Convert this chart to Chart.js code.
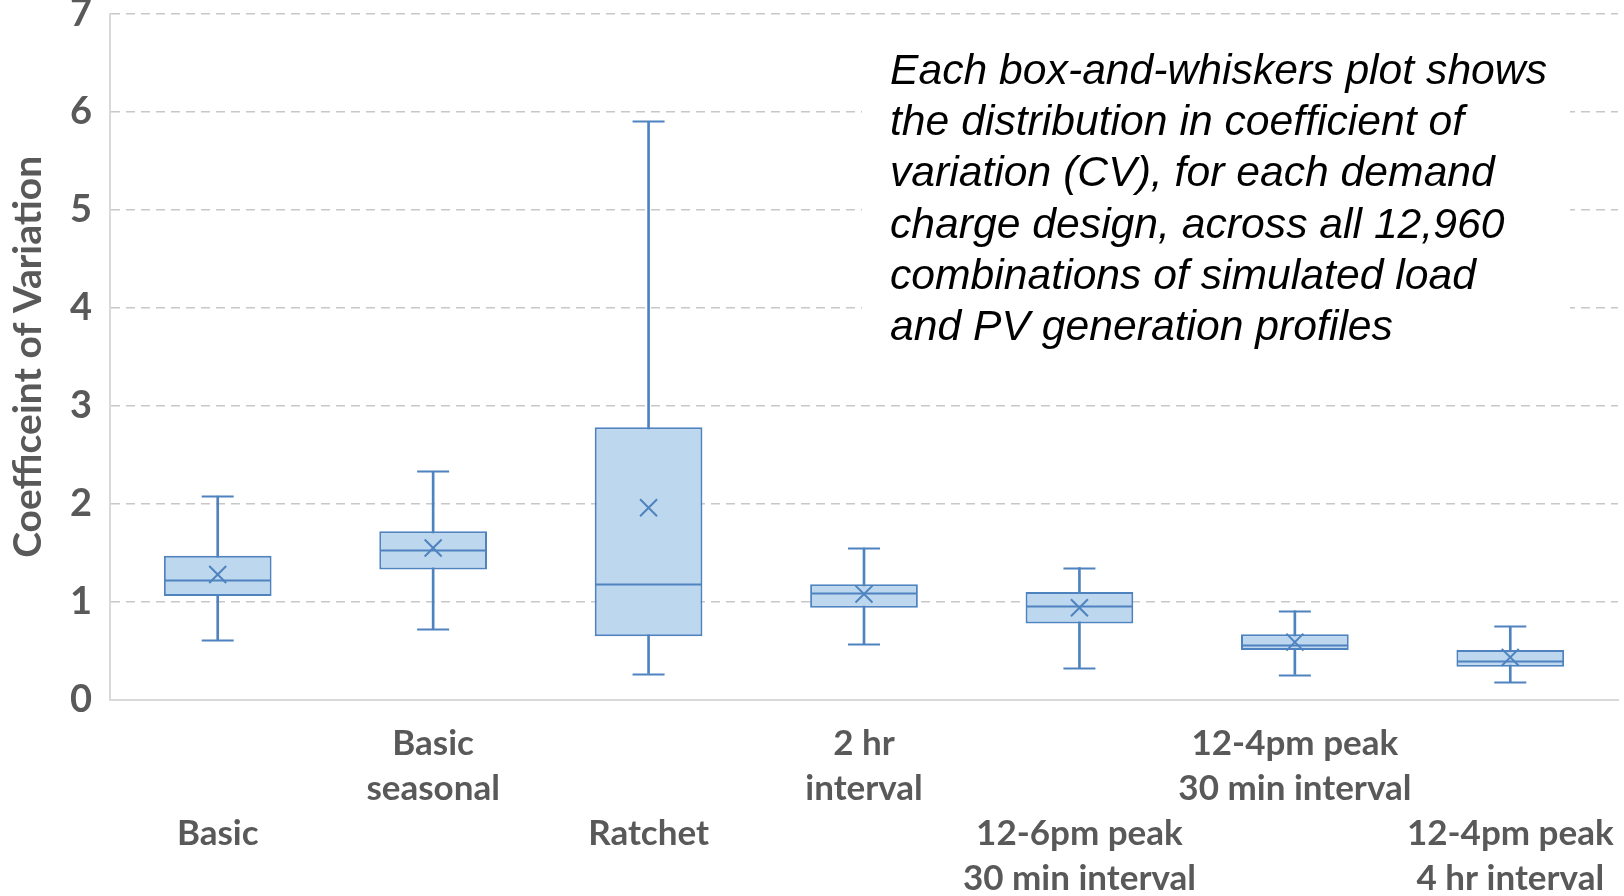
<!DOCTYPE html>
<html>
<head>
<meta charset="utf-8">
<script src="https://cdn.jsdelivr.net/npm/chart.js@4.4.1/dist/chart.umd.min.js"></script>
<style>
html,body{margin:0;padding:0;background:#ffffff;overflow:hidden}
canvas{display:block}
</style>
</head>
<body>
<canvas id="c" width="1624" height="896"></canvas>
<script>
// ---- data ----
const categories = [
  ['Basic'],
  ['Basic', 'seasonal'],
  ['Ratchet'],
  ['2 hr', 'interval'],
  ['12-6pm peak', '30 min interval'],
  ['12-4pm peak', '30 min interval'],
  ['12-4pm peak', '4 hr interval']
];
const whiskerMin = [0.61, 0.72, 0.27, 0.57, 0.33, 0.26, 0.18];
const q1         = [1.06, 1.33, 0.65, 0.94, 0.78, 0.51, 0.34];
const median     = [1.22, 1.53, 1.18, 1.09, 0.96, 0.56, 0.40];
const q3         = [1.47, 1.72, 2.78, 1.18, 1.10, 0.67, 0.51];
const whiskerMax = [2.08, 2.33, 5.90, 1.55, 1.35, 0.91, 0.75];
const mean       = [1.28, 1.55, 1.96, 1.08, 0.94, 0.59, 0.435];
const yMin = 0, yMax = 7, yStep = 1;
const yTitle = 'Coefficeint of Variation';
const noteLines = [
  'Each box-and-whiskers plot shows',
  'the distribution in coefficient of',
  'variation (CV), for each demand',
  'charge design, across all 12,960',
  'combinations of simulated load',
  'and PV generation profiles'
];

// ---- styles ----
const STROKE = '#4F83BF';
const FILL = '#BDD7EE';
const GRAY = '#595959';

const boxExtras = {
  id: 'boxExtras',
  afterDatasetsDraw(chart) {
    const ctx = chart.ctx, xs = chart.scales.x, ys = chart.scales.y;
    const boxMeta = chart.getDatasetMeta(1);
    ctx.save();
    ctx.strokeStyle = STROKE;
    ctx.lineWidth = 2;
    for (let i = 0; i < categories.length; i++) {
      const cx = xs.getPixelForValue(i);
      const bw = boxMeta.data[i].width;
      const capHalf = 16;
      ctx.beginPath();
      [whiskerMin[i], whiskerMax[i]].forEach(v => {
        const py = Math.round(ys.getPixelForValue(v)) + 0.5;
        ctx.moveTo(cx - capHalf, py); ctx.lineTo(cx + capHalf, py);
      });
      const my = Math.round(ys.getPixelForValue(median[i])) + 0.5;
      ctx.moveTo(cx - bw / 2 + 1, my); ctx.lineTo(cx + bw / 2 - 1, my);
      ctx.stroke();
    }
    ctx.restore();
  }
};

const noteBox = {
  id: 'noteBox',
  beforeDatasetsDraw(chart) {
    const ctx = chart.ctx;
    ctx.save();
    ctx.fillStyle = '#ffffff';
    ctx.fillRect(862, 30, 708, 322);
    ctx.restore();
  },
  afterDraw(chart) {
    const ctx = chart.ctx;
    ctx.save();
    ctx.font = 'italic 43px "Liberation Sans", Arial, sans-serif';
    ctx.fillStyle = '#000000';
    ctx.textBaseline = 'alphabetic';
    ctx.textAlign = 'left';
    const w = ctx.measureText(noteLines[0]).width;
    const sx = 657 / w;
    noteLines.forEach((line, i) => {
      ctx.save();
      ctx.translate(890, 84 + i * 51.2);
      ctx.scale(sx, 1);
      ctx.fillText(line, 0, 0);
      ctx.restore();
    });
    ctx.restore();
  }
};

new Chart(document.getElementById('c'), {
  type: 'bar',
  data: {
    labels: categories,
    datasets: [
      {
        type: 'line',
        data: mean,
        showLine: false,
        pointStyle: 'crossRot',
        pointRadius: 12,
        pointBorderColor: STROKE,
        pointBackgroundColor: STROKE,
        pointBorderWidth: 2,
        order: 0
      },
      {
        type: 'bar',
        data: q1.map((v, i) => [v, q3[i]]),
        backgroundColor: FILL,
        borderColor: STROKE,
        borderWidth: 2,
        borderSkipped: false,
        barPercentage: 0.5,
        categoryPercentage: 1,
        grouped: false,
        order: 1
      },
      {
        type: 'bar',
        data: whiskerMin.map((v, i) => [v, whiskerMax[i]]),
        backgroundColor: STROKE,
        borderWidth: 0,
        barThickness: 2,
        grouped: false,
        order: 2
      }
    ]
  },
  options: {
    responsive: false,
    animation: false,
    events: [],
    layout: { autoPadding: false, padding: { top: 13.5, right: 6, left: 0, bottom: 0 } },
    plugins: { legend: { display: false }, tooltip: { enabled: false } },
    scales: {
      x: {
        offset: true,
        grid: { display: false, drawTicks: false },
        border: { display: true, color: '#d9d9d9', width: 2 },
        ticks: {
          autoSkip: false,
          maxRotation: 0,
          minRotation: 0,
          padding: 21.5,
          color: GRAY,
          font: { family: 'Lato', weight: 'bold', size: 35, lineHeight: '45px' },
          callback: (v, i) => (i % 2 === 0 ? ['', ''].concat(categories[i]) : categories[i])
        },
        afterFit(scale) {
          scale.height = 196;
          scale.paddingLeft = 0; scale.paddingRight = 0;
        }
      },
      y: {
        min: yMin,
        max: yMax,
        grid: { color: '#c8c8c8', lineWidth: 1.5, drawTicks: false },
        border: { display: true, color: '#d9d9d9', width: 2, dash: [9, 6] },
        ticks: {
          stepSize: yStep,
          padding: 18,
          color: GRAY,
          font: { family: 'Lato', weight: 'bold', size: 38 }
        },
        title: {
          display: true,
          text: yTitle,
          color: GRAY,
          font: { family: 'Lato', weight: 'bold', size: 39 },
          padding: { top: 5, bottom: 0 }
        },
        afterFit(scale) {
          scale.width = 110;
          scale.paddingTop = 0; scale.paddingBottom = 0;
        }
      }
    }
  },
  plugins: [boxExtras, noteBox]
});
</script>
</body>
</html>
